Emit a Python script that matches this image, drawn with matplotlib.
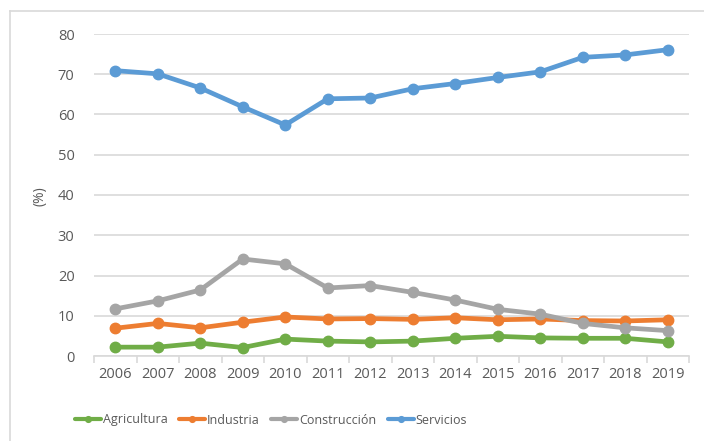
import matplotlib.pyplot as plt
from matplotlib import rcParams
from matplotlib.lines import Line2D

rcParams['font.family'] = ['Open Sans', 'DejaVu Sans']

years = [2006, 2007, 2008, 2009, 2010, 2011, 2012, 2013, 2014, 2015, 2016, 2017, 2018, 2019]
agricultura = [2.2, 2.2, 3.2, 2.1, 4.2, 3.7, 3.5, 3.7, 4.4, 4.9, 4.5, 4.4, 4.4, 3.5]
industria = [6.9, 8.1, 7.0, 8.4, 9.7, 9.2, 9.3, 9.1, 9.5, 9.0, 9.2, 8.8, 8.7, 9.0]
construccion = [11.7, 13.7, 16.4, 24.1, 22.9, 16.9, 17.5, 15.8, 13.9, 11.6, 10.4, 8.1, 7.0, 6.3]
servicios = [70.9, 70.1, 66.6, 61.9, 57.4, 63.9, 64.1, 66.4, 67.7, 69.2, 70.6, 74.2, 74.8, 76.1]

series = [
    ('Agricultura', agricultura, '#70ad47'),
    ('Industria', industria, '#ed7d31'),
    ('Construcción', construccion, '#a5a5a5'),
    ('Servicios', servicios, '#5b9bd5'),
]

text_color = '#595959'
fig = plt.figure(figsize=(7.04, 4.41), dpi=100)
ax = fig.add_axes([94 / 704, 1 - 356 / 441, 595 / 704, 322 / 441])

x = list(range(len(years)))
for name, vals, col in series:
    ax.plot(x, vals, color=col, lw=3.4, marker='o', markersize=7.5,
            solid_capstyle='round', label=name, zorder=3)

ax.set_xlim(-0.5, len(years) - 0.5)
ax.set_ylim(0, 80)
ax.set_yticks(range(0, 81, 10))
ax.grid(axis='y', color='#d9d9d9', lw=1.2)
ax.set_axisbelow(True)

ax.set_xticks(x)
ax.set_xticklabels(years)
ax.set_xticks([i - 0.5 for i in range(len(years) + 1)], minor=True)
ax.tick_params(axis='x', which='major', length=0, pad=8, labelsize=10.5, labelcolor=text_color)
ax.tick_params(axis='x', which='minor', length=5, color='#d9d9d9', width=1.2)
ax.tick_params(axis='y', length=0, pad=14, labelsize=10.5, labelcolor=text_color)

for side in ['top', 'right', 'left']:
    ax.spines[side].set_visible(False)
ax.spines['bottom'].set_color('#d9d9d9')
ax.spines['bottom'].set_linewidth(1.2)

fig.text(40 / 704, 1 - 196 / 441, '(%)', rotation=90, ha='center', va='center',
         fontsize=10, color=text_color)

# chart frame (left and top edges visible in the crop)
fig.add_artist(Line2D([10 / 704, 10 / 704], [0, 1 - 11 / 441], color='#d9d9d9', lw=1.2))
fig.add_artist(Line2D([10 / 704, 1], [1 - 11 / 441, 1 - 11 / 441], color='#d9d9d9', lw=1.2))

leg = fig.legend(loc='center', bbox_to_anchor=(271 / 704, 1 - 420 / 441), ncol=4,
                 frameon=False, fontsize=9, handlelength=2.1, handletextpad=0.15,
                 columnspacing=0.9, markerscale=0.55)
for t in leg.get_texts():
    t.set_color(text_color)
for h in leg.legend_handles:
    h.set_linewidth(3)

fig.savefig('out.png', dpi=100)
